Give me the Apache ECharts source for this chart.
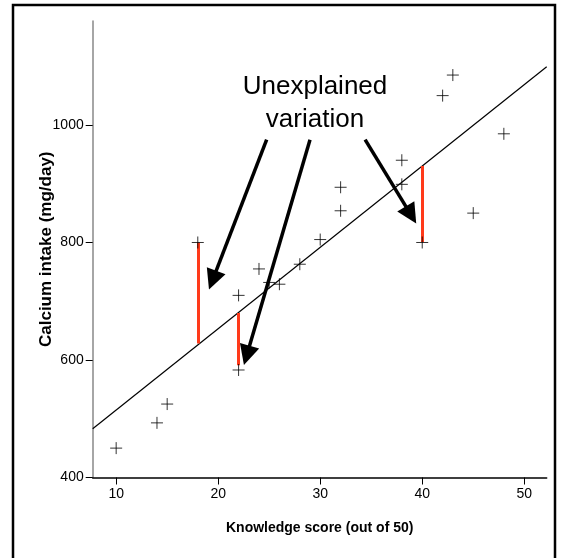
<!DOCTYPE html>
<html>
<head>
<meta charset="utf-8">
<script src="https://cdn.jsdelivr.net/npm/echarts@6/dist/echarts.min.js"></script>
<style>
  html, body { margin: 0; padding: 0; background: #fff; }
  #main { width: 562px; height: 558px; }
</style>
</head>
<body>
<div id="main"></div>
<script>
/* knowledge score vs calcium intake */
var xTicks = [10, 20, 30, 40, 50];
var yTicks = [400, 600, 800, 1000];

var knowledge = [10, 14, 15, 18, 22, 22, 24, 25, 26, 28, 30, 32, 32, 38, 38, 40, 42, 43, 45, 48];
var calcium   = [450, 493, 525, 800, 710, 583, 755, 732, 729, 763, 805, 894, 854, 940, 899, 800, 1050, 1085, 850, 985];

/* fitted line, read at the two ends of the x axis */
var fitX = [7.7, 52.2];
var fitY = [483, 1099];

/* residuals drawn in red: x, from, to */
var residX    = [18, 22, 40];
var residFrom = [800, 680, 930];
var residTo   = [628, 591, 801];

/* arrows: start and end of shaft in data units (head sits on the end) */
var arrowFrom = [[24.75, 975], [29.0, 975], [34.4, 975]];
var arrowTo   = [[19.45, 736], [22.8, 608], [38.9, 847]];

var font = "'Liberation Sans', Arial, sans-serif";

var points = knowledge.map(function (k, i) { return [k, calcium[i]]; });
var residLines = residX.map(function (x, i) {
    return { coords: [[x, residFrom[i]], [x, residTo[i]]] };
});
var arrows = arrowFrom.map(function (a, i) {
    return { coords: [a, arrowTo[i]] };
});

var chart = echarts.init(document.getElementById('main'));
chart.setOption({
    animation: false,
    backgroundColor: '#fff',
    grid: { left: 92.7, right: 15.3, top: 21, bottom: 80.5 },
    xAxis: {
        type: 'value', min: 7.7, max: 52.2,
        name: 'Knowledge score (out of 50)',
        nameLocation: 'middle', nameGap: 44, nameMoveOverlap: false,
        nameTextStyle: { fontFamily: font, fontWeight: 'bold', fontSize: 14, color: '#000' },
        axisLine: { lineStyle: { color: '#000', width: 1.5 } },
        axisTick: { length: 7, lineStyle: { color: '#000' }, customValues: xTicks },
        axisLabel: { customValues: xTicks, color: '#000', fontFamily: font, fontSize: 14, margin: 10 },
        splitLine: { show: false }
    },
    yAxis: {
        type: 'value', min: 400, max: 1177,
        name: 'Calcium intake (mg/day)',
        nameLocation: 'middle', nameGap: 38, nameRotate: 90, nameMoveOverlap: false,
        nameTextStyle: { fontFamily: font, fontWeight: 'bold', fontSize: 17, color: '#000' },
        axisLine: { show: true, lineStyle: { color: '#888', width: 1.5 } },
        axisTick: { show: true, length: 7, lineStyle: { color: '#000' }, customValues: yTicks },
        axisLabel: {
            customValues: yTicks, color: '#000', fontFamily: font, fontSize: 14, margin: 9,
            formatter: function (v) { return String(v); }
        },
        splitLine: { show: false }
    },
    series: [
        {
            type: 'line',
            data: fitX.map(function (x, i) { return [x, fitY[i]]; }),
            symbol: 'none',
            lineStyle: { color: '#000', width: 1.2 },
            z: 2
        },
        {
            type: 'lines',
            coordinateSystem: 'cartesian2d',
            data: residLines,
            lineStyle: { color: '#ff3a1a', width: 3, opacity: 1 },
            z: 3
        },
        {
            type: 'scatter',
            data: points,
            symbol: 'path://M0,5H10M5,0V10',
            symbolSize: 12,
            itemStyle: { color: 'none', borderColor: '#000', borderWidth: 1 },
            z: 4
        },
        {
            type: 'lines',
            coordinateSystem: 'cartesian2d',
            data: arrows,
            symbol: ['none', 'triangle'],
            symbolSize: [16, 20],
            lineStyle: { color: '#000', width: 3.5, opacity: 1, curveness: 0 },
            itemStyle: { color: '#000' },
            z: 5
        }
    ],
    graphic: [
        {
            type: 'rect',
            shape: { x: 13, y: 5, width: 542, height: 600 },
            style: { fill: 'none', stroke: '#000', lineWidth: 2.5 },
            silent: true
        },
        {
            type: 'text',
            x: 315, y: 70,
            style: {
                text: 'Unexplained\nvariation',
                textAlign: 'center',
                font: "26px 'Liberation Sans', Arial, sans-serif",
                lineHeight: 33,
                fill: '#000'
            }
        }
    ]
});
</script>
</body>
</html>
